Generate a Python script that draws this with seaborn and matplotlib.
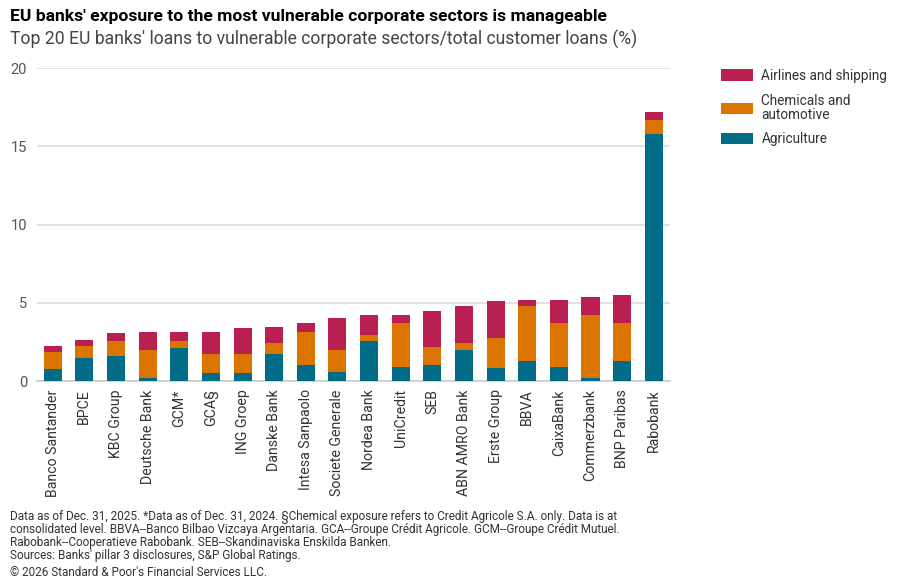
import numpy as np
import pandas as pd
import matplotlib
matplotlib.use("Agg")
import matplotlib.pyplot as plt
import seaborn as sns
from matplotlib.patches import Patch

banks = ["Banco Santander", "BPCE", "KBC Group", "Deutsche Bank", "GCM*", "GCA§",
         "ING Groep", "Danske Bank", "Intesa Sanpaolo", "Societe Generale",
         "Nordea Bank", "UniCredit", "SEB", "ABN AMRO Bank", "Erste Group", "BBVA",
         "CaixaBank", "Commerzbank", "BNP Paribas", "Rabobank"]
agriculture = [0.79, 1.45, 1.62, 0.21, 2.14, 0.49, 0.49, 1.73, 1.00, 0.56,
               2.54, 0.92, 1.03, 2.01, 0.85, 1.30, 0.92, 0.21, 1.30, 15.81]
chemicals = [1.05, 0.79, 0.97, 1.76, 0.45, 1.24, 1.24, 0.71, 2.12, 1.45,
             0.43, 2.76, 1.17, 0.43, 1.89, 3.49, 2.76, 4.00, 2.42, 0.85]
airlines = [0.40, 0.41, 0.49, 1.15, 0.53, 1.39, 1.69, 1.04, 0.56, 1.99,
            1.24, 0.57, 2.29, 2.35, 2.35, 0.40, 1.49, 1.17, 1.81, 0.53]
series_names = ["Airlines and shipping", "Chemicals and\nautomotive", "Agriculture"]
colors = ["#B91F4F", "#DB7500", "#006C87"]
yticks = [0, 5, 10, 15, 20]

df = pd.DataFrame({"bank": banks, "agri": agriculture, "chem": chemicals, "air": airlines})
df["lvl_agri"] = df["agri"]
df["lvl_chem"] = df["agri"] + df["chem"]
df["lvl_air"] = df["lvl_chem"] + df["air"]

sns.set_theme(style="white")
plt.rcParams["font.family"] = ["Roboto", "DejaVu Sans"]

fig = plt.figure(figsize=(9, 5.88), dpi=100)
ax = fig.add_axes([0.041, 0.352, 0.703, 0.532])

for col, c in zip(["lvl_air", "lvl_chem", "lvl_agri"], colors):
    sns.barplot(data=df, x="bank", y=col, color=c, width=0.57, ax=ax,
                saturation=1, edgecolor="none", zorder=3)

ax.set_ylim(0, 20)
ax.set_xlim(-0.5, len(banks) - 0.5)
ax.set_yticks(yticks)
ax.set_yticklabels([str(t) for t in yticks], fontsize=10.5, color="#555555")
ax.yaxis.grid(True, color="#dddddd", linewidth=1.2, zorder=0)
ax.set_xlabel("")
ax.set_ylabel("")
for s in ["top", "right", "left"]:
    ax.spines[s].set_visible(False)
ax.spines["bottom"].set_color("#cccccc")
ax.spines["bottom"].set_linewidth(1.2)
ax.tick_params(axis="y", length=0, pad=7)
ax.set_xticks(range(len(banks)))
ax.set_xticklabels(banks, rotation=90, fontsize=10.2, color="#333333")
ax.tick_params(axis="x", length=0, pad=6)
ax.set_xticks(np.arange(-0.5, len(banks), 1), minor=True)
ax.tick_params(axis="x", which="minor", length=5, color="#cccccc", width=1.2)

handles = [Patch(facecolor=c, edgecolor="none") for c in colors]
leg = fig.legend(handles, series_names, loc="upper left", bbox_to_anchor=(0.787, 0.904),
                 frameon=False, fontsize=9.8, handlelength=2.4, handleheight=0.9,
                 labelspacing=0.8, handletextpad=0.6)
for t in leg.get_texts():
    t.set_color("#333333")
    t.set_linespacing(1.0)

fig.text(0.011, 0.972, "EU banks' exposure to the most vulnerable corporate sectors is manageable",
         fontsize=12.6, fontweight="bold", color="#000000", va="center")
fig.text(0.011, 0.933, "Top 20 EU banks' loans to vulnerable corporate sectors/total customer loans (%)",
         fontsize=12.7, color="#444444", va="center")

foot = ("Data as of Dec. 31, 2025. *Data as of Dec. 31, 2024. §Chemical exposure refers to Credit Agricole S.A. only. Data is at\n"
        "consolidated level. BBVA--Banco Bilbao Vizcaya Argentaria. GCA--Groupe Crédit Agricole. GCM--Groupe Crédit Mutuel.\n"
        "Rabobank--Cooperatieve Rabobank. SEB--Skandinaviska Enskilda Banken.\n"
        "Sources: Banks' pillar 3 disclosures, S&P Global Ratings.")
fig.text(0.011, 0.134, foot, fontsize=8.5, color="#333333", va="top", linespacing=1.0,
         family=["Liberation Sans Narrow", "Roboto", "DejaVu Sans"])
fig.text(0.011, 0.027, "© 2026 Standard & Poor's Financial Services LLC.", fontsize=8.5,
         color="#333333", va="center", family=["Liberation Sans Narrow", "Roboto", "DejaVu Sans"])

fig.savefig("out.png", dpi=100)
